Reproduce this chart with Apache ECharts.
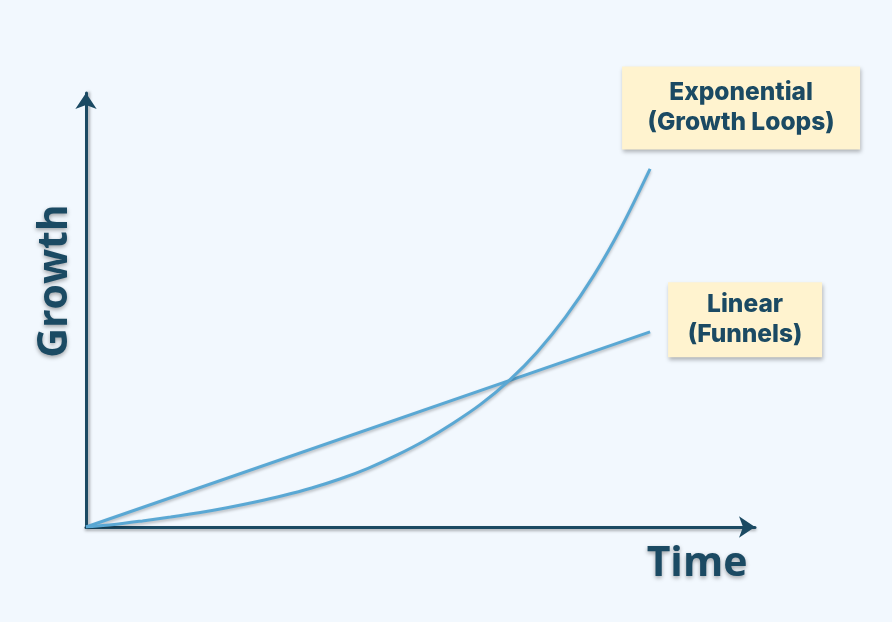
<!DOCTYPE html>
<html>
<head>
<meta charset="utf-8">
<script src="https://cdn.jsdelivr.net/npm/echarts@6/dist/echarts.min.js"></script>
<style>
html,body{margin:0;padding:0;background:#f2f8fe;}
#c{width:892px;height:622px;}
</style>
</head>
<body>
<div id="c"></div>
<script>
var timeSteps = [0,0.5,1,1.5,2,2.5,3,3.5,4,4.5,5,5.5,6,6.5,7,7.5,8,8.5,9,9.5,10];
var exponentialValues = [0,0.7,1.7,2.8,4.0,5.4,7.0,8.8,10.9,13.4,16.4,20.0,24.1,28.9,34.3,40.9,48.9,58.6,70.2,84.0,100];
var linearValues = [0,54.5];
var linearSteps = [0,10];
var labelExp = 'Exponential\n(Growth Loops)';
var labelLin = 'Linear\n(Funnels)';
var xAxisTitle = 'Time';
var yAxisTitle = 'Growth';

var navy = '#1b4a63';
var lineBlue = '#5aa8d4';

function pairs(xs, ys){ return xs.map(function(x,i){ return [x, ys[i]]; }); }

function boxLabel(text, w, h, off, pad){
  return {
    show: true,
    position: 'inside',
    offset: off,
    formatter: text,
    color: navy,
    fontFamily: 'Inter',
    fontWeight: 800,
    fontSize: 24.5,
    lineHeight: 30,
    align: 'center',
    verticalAlign: 'middle',
    width: w,
    height: h,
    padding: pad,
    backgroundColor: '#fff3cf',
    shadowColor: 'rgba(0,0,0,0.28)',
    shadowBlur: 4,
    shadowOffsetX: 1,
    shadowOffsetY: 3
  };
}

var chart = echarts.init(document.getElementById('c'));
chart.setOption({
  backgroundColor: '#f2f8fe',
  animation: false,
  grid: {left: 86, right: 137, top: 93, bottom: 95, containLabel: false},
  xAxis: {
    type: 'value', min: 0, max: 11.86,
    name: xAxisTitle,
    nameLocation: 'end',
    nameGap: -58,
    nameTextStyle: {
      color: navy, fontFamily: 'Open Sans', fontWeight: 'bold', fontSize: 41,
      align: 'center', verticalAlign: 'top', padding: [17,0,0,0],
      textShadowColor: 'rgba(0,0,0,0.35)', textShadowBlur: 4, textShadowOffsetY: 2
    },
    axisLine: {show: true, symbol: ['none','arrow'], symbolSize: [16,16],
      lineStyle: {color: navy, width: 3, shadowColor: 'rgba(0,0,0,0.3)', shadowBlur: 3, shadowOffsetY: 2}},
    axisTick: {show: false}, axisLabel: {show: false}, splitLine: {show: false}
  },
  yAxis: {
    type: 'value', min: 0, max: 121.2,
    name: yAxisTitle,
    nameLocation: 'middle',
    nameGap: 10,
    nameRotate: 90,
    nameTextStyle: {
      color: navy, fontFamily: 'Open Sans', fontWeight: 'bold', fontSize: 41,
      padding: [0,0,0,58],
      textShadowColor: 'rgba(0,0,0,0.35)', textShadowBlur: 4, textShadowOffsetY: 2
    },
    axisLine: {show: true, symbol: ['none','arrow'], symbolSize: [16,16],
      lineStyle: {color: navy, width: 3, shadowColor: 'rgba(0,0,0,0.3)', shadowBlur: 3, shadowOffsetX: 2}},
    axisTick: {show: false}, axisLabel: {show: false}, splitLine: {show: false}
  },
  series: [
    {
      type: 'line', data: pairs(linearSteps, linearValues), showSymbol: false, smooth: false,
      lineStyle: {color: lineBlue, width: 3, shadowColor: 'rgba(0,0,0,0.25)', shadowBlur: 3, shadowOffsetY: 2},
      markPoint: {
        symbol: 'rect', symbolSize: [1,1], itemStyle: {color: 'rgba(0,0,0,0)'},
        data: [{coord: [linearSteps[1], linearValues[1]], label: boxLabel(labelLin, 154, 75, [95,-12], 0)}]
      }
    },
    {
      type: 'line', data: pairs(timeSteps, exponentialValues), showSymbol: false, smooth: 0.3,
      lineStyle: {color: lineBlue, width: 3, shadowColor: 'rgba(0,0,0,0.25)', shadowBlur: 3, shadowOffsetY: 2},
      markPoint: {
        symbol: 'rect', symbolSize: [1,1], itemStyle: {color: 'rgba(0,0,0,0)'},
        data: [{coord: [timeSteps[20], exponentialValues[20]], label: boxLabel(labelExp, 238, 75, [91,-61], [0,0,8,0])}]
      }
    }
  ]
});
</script>
</body>
</html>
